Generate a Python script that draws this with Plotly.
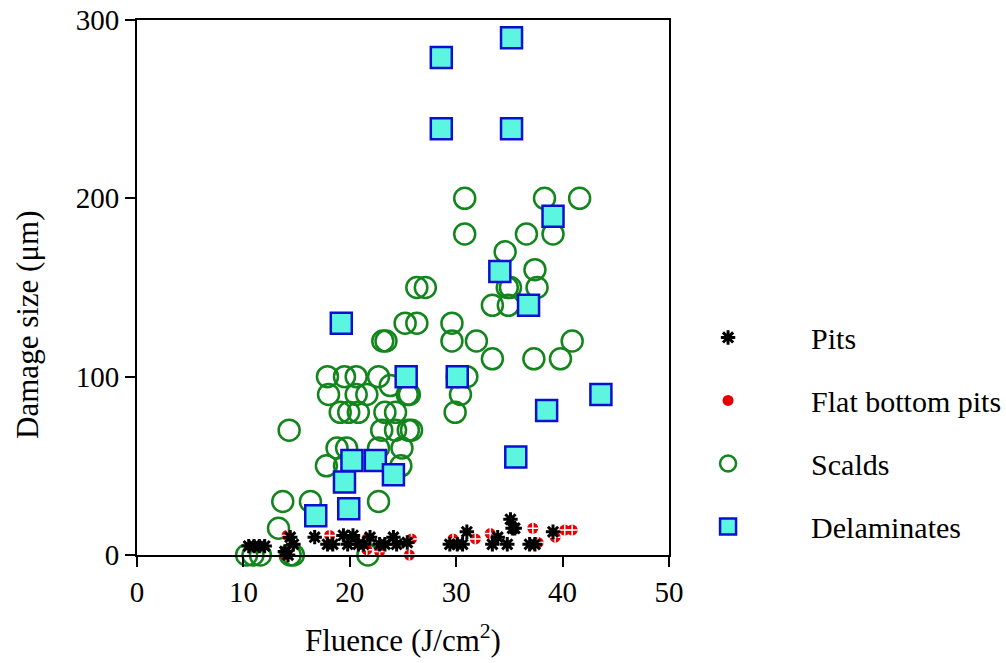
import plotly.graph_objects as go

# ---- data ----
pits_x = [10.5, 11.0, 11.5, 12.0, 14.4, 14.7, 13.9, 14.2, 16.7, 17.9, 18.4, 19.4, 20.3, 19.8,
          20.8, 21.3, 21.9, 22.8, 23.3, 24.1, 24.4, 25.4, 29.4, 30.1, 30.6, 31.0, 33.4, 33.9,
          35.1, 35.3, 34.8, 35.5, 36.9, 37.4, 39.1]
pits_y = [5, 5, 5, 5, 10, 6, 2, 0, 10, 6, 6, 11, 11, 6,
          6, 6, 10, 6, 6, 10, 6, 7, 6, 6, 6, 13, 6, 10,
          20, 15, 6, 15, 6, 6, 13]

flat_x = [14.1, 13.9, 18.1, 21.6, 21.6, 22.8, 25.8, 25.6, 29.7, 31.8, 33.2, 37.2, 37.7, 39.3, 40.2, 40.9]
flat_y = [11, 0, 11, 9, 3, 2, 9, 0, 9, 9, 12, 15, 7, 10, 14, 14]

scald_x = [10.3, 10.9, 11.6, 14.4, 14.7, 21.7,
           13.3, 13.7, 16.3, 22.7,
           17.8, 19.5, 24.8,
           18.8, 19.7, 22.7, 24.9,
           14.3, 23.0, 24.3, 25.5, 25.8,
           19.1, 19.9, 20.8, 23.3, 24.3, 29.9,
           18.0, 20.6, 21.6, 25.4, 25.6, 30.4,
           23.8,
           17.9, 19.5, 20.6, 22.7, 30.1, 31.0,
           23.1, 23.4, 29.6, 31.9, 40.9,
           33.4, 37.3, 39.8,
           25.2, 26.3, 29.6,
           33.4, 34.9,
           26.3, 27.1, 34.8, 35.1, 37.6,
           37.4,
           34.6,
           30.8, 36.6, 39.1,
           30.8, 38.3, 41.6]
scald_y = [0, 0, 0, 0, 0, 0,
           15, 30, 30, 30,
           50, 50, 50,
           60, 60, 60, 60,
           70, 70, 70, 70, 70,
           80, 80, 80, 80, 80, 80,
           90, 90, 90, 90, 90, 90,
           95,
           100, 100, 100, 100, 100, 100,
           120, 120, 120, 120, 120,
           110, 110, 110,
           130, 130, 130,
           140, 140,
           150, 150, 150, 150, 150,
           160,
           170,
           180, 180, 180,
           200, 200, 200]

delam_x = [28.6, 35.2, 28.6, 35.2, 39.1, 34.1, 36.8, 19.2, 25.3, 30.1, 38.5, 43.6,
           35.6, 20.2, 22.4, 24.1, 19.5, 19.9, 16.8]
delam_y = [279, 290, 239, 239, 190, 159, 140, 130, 100, 100, 81, 90,
           55, 53, 53, 45, 41, 26, 22]

FONT = "Liberation Serif"

fig = go.Figure()

fig.add_trace(go.Scatter(
    x=scald_x, y=scald_y, mode="markers", name="Scalds", legendgroup="c", legendrank=3,
    marker=dict(symbol="circle-open", size=21, color="#12861c", line=dict(width=2.5, color="#12861c")),
    cliponaxis=False,
))
fig.add_trace(go.Scatter(
    x=delam_x, y=delam_y, mode="markers", name="Delaminates", legendgroup="d", legendrank=4,
    marker=dict(symbol="square", size=21, color="#5cf5e0", line=dict(width=2.5, color="#0a10d0")),
    cliponaxis=False,
))
fig.add_trace(go.Scatter(
    x=flat_x, y=flat_y, mode="markers", name="Flat bottom pits", legendgroup="b", legendrank=2,
    marker=dict(symbol="circle", size=11, color="#e80000", line=dict(width=0)),
    cliponaxis=False,
))
fig.add_trace(go.Scatter(
    x=flat_x, y=flat_y, mode="markers", showlegend=False, legendgroup="b", hoverinfo="skip",
    marker=dict(symbol="cross-thin-open", size=8, color="white", line=dict(width=1.5, color="white")),
    cliponaxis=False,
))
fig.add_trace(go.Scatter(
    x=pits_x, y=pits_y, mode="markers", name="Pits", legendgroup="a", legendrank=1,
    marker=dict(symbol="asterisk-open", size=12, color="black", line=dict(width=3, color="black")),
    cliponaxis=False,
))

axis_common = dict(
    showline=True, linecolor="black", linewidth=2, mirror=True,
    ticks="outside", ticklen=10, tickwidth=2, tickcolor="black",
    showgrid=False, zeroline=False, automargin=False,
    tickfont=dict(family=FONT, size=29, color="black"),
)

fig.update_xaxes(range=[0, 50], tickvals=[0, 10, 20, 30, 40, 50], **axis_common)
fig.update_yaxes(range=[0, 300], tickvals=[0, 100, 200, 300], **axis_common)

fig.add_annotation(text="Fluence (J/cm<sup>2</sup>)", xref="paper", yref="paper",
                   x=0.5, y=-0.115, yanchor="top", showarrow=False,
                   font=dict(family=FONT, size=31, color="black"))
fig.add_annotation(text="Damage size (μm)", xref="paper", yref="paper",
                   x=-0.205, y=0.43, textangle=-90, showarrow=False, xanchor="center", yanchor="middle",
                   font=dict(family=FONT, size=31, color="black"))

fig.update_layout(
    width=1006, height=663,
    margin=dict(l=137, r=337, t=20, b=108, autoexpand=False),
    paper_bgcolor="white", plot_bgcolor="white",
    showlegend=True,
    legend=dict(
        x=0.955, xanchor="left", y=0.23, yanchor="middle",
        traceorder="grouped", tracegroupgap=21, itemwidth=156,
        font=dict(family=FONT, size=30, color="black"),
        bgcolor="rgba(0,0,0,0)",
    ),
)

fig.write_html("out.html")
